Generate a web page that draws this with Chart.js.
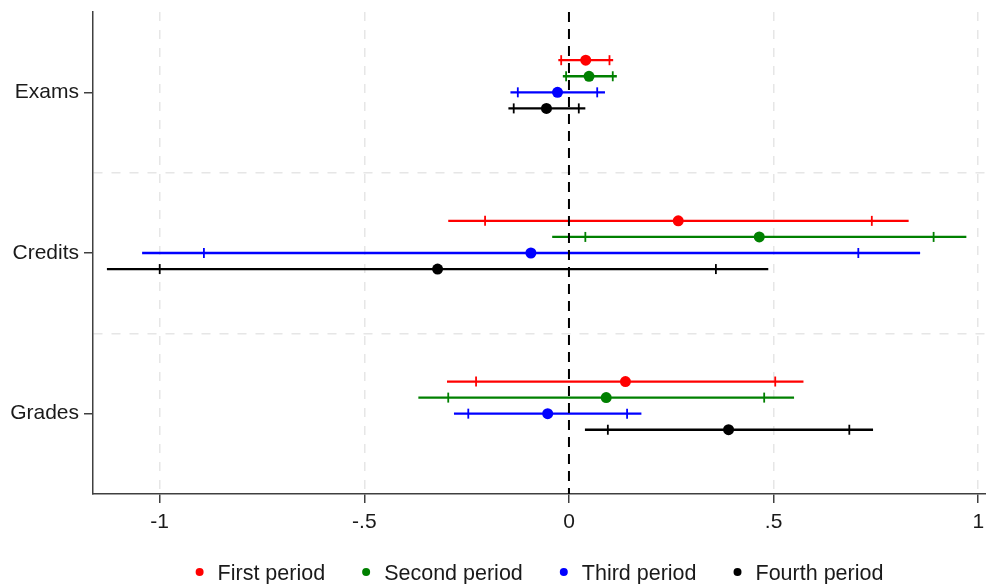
<!DOCTYPE html>
<html>
<head>
<meta charset="utf-8">
<script src="https://cdn.jsdelivr.net/npm/chart.js@4.4.1/dist/chart.umd.min.js"></script>
<style>
  body { margin: 0; background: #fff; }
  #wrap { width: 986px; height: 584px; }
</style>
</head>
<body>
<div id="wrap"><canvas id="coefPlot"></canvas></div>
<script>
"use strict";

var categories = ['Exams', 'Credits', 'Grades'];
var periods = ['First period', 'Second period', 'Third period', 'Fourth period'];
var colors = ['#ff0000', '#008000', '#0000ff', '#000000'];
var xTicks = [-1, -0.5, 0, 0.5, 1];
var xTickLabels = ['-1', '-.5', '0', '.5', '1'];

// point estimates (Exams, Credits, Grades)
var firstEst = [0.041, 0.267, 0.138];
var secondEst = [0.049, 0.465, 0.091];
var thirdEst = [-0.028, -0.093, -0.052];
var fourthEst = [-0.055, -0.321, 0.390];

// 90% interval (the small ticks)
var firstLo90 = [-0.019, -0.205, -0.227];
var firstHi90 = [0.099, 0.740, 0.504];
var secondLo90 = [-0.007, 0.040, -0.295];
var secondHi90 = [0.107, 0.891, 0.477];
var thirdLo90 = [-0.125, -0.892, -0.246];
var thirdHi90 = [0.069, 0.707, 0.142];
var fourthLo90 = [-0.135, -1.000, 0.095];
var fourthHi90 = [0.024, 0.359, 0.685];

// 95% interval (line ends)
var firstLo95 = [-0.026, -0.295, -0.298];
var firstHi95 = [0.108, 0.830, 0.573];
var secondLo95 = [-0.015, -0.041, -0.368];
var secondHi95 = [0.117, 0.971, 0.550];
var thirdLo95 = [-0.143, -1.043, -0.281];
var thirdHi95 = [0.088, 0.858, 0.177];
var fourthLo95 = [-0.148, -1.129, 0.039];
var fourthHi95 = [0.040, 0.487, 0.743];

var est = [firstEst, secondEst, thirdEst, fourthEst];
var lo90 = [firstLo90, secondLo90, thirdLo90, fourthLo90];
var hi90 = [firstHi90, secondHi90, thirdHi90, fourthHi90];
var lo95 = [firstLo95, secondLo95, thirdLo95, fourthLo95];
var hi95 = [firstHi95, secondHi95, thirdHi95, fourthHi95];

// vertical shift of each period inside a category row
var rowShift = [-0.2, -0.1, 0, 0.1];

function rowY(i, s) {
  return i + 1 + rowShift[s];
}

var datasets = [];

// reference line at zero
datasets.push({
  label: 'zero',
  data: [{x: 0, y: 0.5}, {x: 0, y: 3.5}],
  showLine: true,
  borderColor: '#000',
  borderWidth: 2,
  borderDash: [10, 7],
  pointRadius: 0
});

periods.forEach(function (name, s) {
  datasets.push({
    label: name,
    data: categories.map(function (c, i) { return {x: est[s][i], y: rowY(i, s)}; }),
    showLine: false,
    pointStyle: 'circle',
    pointRadius: 5.5,
    pointBackgroundColor: colors[s],
    pointBorderColor: colors[s],
    pointBorderWidth: 0
  });
});

periods.forEach(function (name, s) {
  var pts = [];
  categories.forEach(function (c, i) {
    pts.push({x: lo90[s][i], y: rowY(i, s)});
    pts.push({x: hi90[s][i], y: rowY(i, s)});
  });
  datasets.push({
    label: name + ' 90',
    data: pts,
    showLine: false,
    pointStyle: 'line',
    pointRotation: 90,
    pointRadius: 5,
    pointBorderColor: colors[s],
    pointBorderWidth: 1.8
  });
});

periods.forEach(function (name, s) {
  categories.forEach(function (c, i) {
    datasets.push({
      label: name + ' 95',
      data: [{x: lo95[s][i], y: rowY(i, s)}, {x: hi95[s][i], y: rowY(i, s)}],
      showLine: true,
      borderColor: colors[s],
      borderWidth: 2.3,
      pointRadius: 0
    });
  });
});

var periodLegend = {
  id: 'periodLegend',
  afterDraw: function (chart) {
    var ctx = chart.ctx;
    var area = chart.chartArea;
    var dotGap = 22, itemGap = 37;
    ctx.save();
    ctx.font = '21.5px "Liberation Sans", Arial, sans-serif';
    ctx.textBaseline = 'alphabetic';
    var widths = periods.map(function (p) { return ctx.measureText(p).width; });
    var total = (periods.length - 1) * itemGap;
    widths.forEach(function (w) { total += w + dotGap; });
    var x = (area.left + area.right) / 2 - total / 2;
    periods.forEach(function (p, s) {
      ctx.fillStyle = colors[s];
      ctx.beginPath();
      ctx.arc(x + 4, 572, 4, 0, Math.PI * 2);
      ctx.fill();
      ctx.fillStyle = '#1a1a1a';
      ctx.fillText(p, x + dotGap, 580);
      x += dotGap + widths[s] + itemGap;
    });
    ctx.restore();
  }
};

// keep the plot box fixed: no extra room for edge labels
function noScalePadding(scale) {
  scale.paddingTop = 0;
  scale.paddingBottom = 0;
  scale.paddingLeft = 0;
  scale.paddingRight = 0;
}

Chart.defaults.font.family = '"Liberation Sans", Arial, sans-serif';
Chart.defaults.font.size = 21;
Chart.defaults.color = '#1a1a1a';

var ctx = document.getElementById('coefPlot');
var myChart = new Chart(ctx, {
  type: 'scatter',
  data: { datasets: datasets },
  plugins: [periodLegend],
  options: {
    responsive: true,
    maintainAspectRatio: false,
    animation: false,
    layout: {
      autoPadding: false,
      padding: { top: 12, right: 0, bottom: 40, left: 0 }
    },
    plugins: {
      legend: { display: false },
      tooltip: { enabled: false }
    },
    scales: {
      x: {
        type: 'linear',
        min: -1.163,
        max: 1.019,
        afterBuildTicks: function (scale) {
          scale.ticks = xTicks.map(function (v) { return {value: v}; });
        },
        afterFit: function (scale) {
          scale.height = 50;
          noScalePadding(scale);
        },
        ticks: {
          padding: 7,
          maxRotation: 0,
          callback: function (value) {
            var k = xTicks.indexOf(value);
            return k >= 0 ? xTickLabels[k] : '';
          }
        },
        grid: {
          color: function (c) { return c.tick && c.tick.value === 0 ? 'rgba(0,0,0,0)' : '#e6e6e6'; },
          lineWidth: 1.5,
          tickColor: '#404040',
          tickLength: 9,
          tickWidth: 1.5
        },
        border: { color: '#404040', width: 1.5, dash: [9, 9] }
      },
      y: {
        type: 'linear',
        reverse: true,
        min: 0.5,
        max: 3.5,
        afterBuildTicks: function (scale) {
          scale.ticks = [1, 1.5, 2, 2.5, 3].map(function (v) { return {value: v}; });
        },
        afterFit: function (scale) {
          scale.width = 93;
          noScalePadding(scale);
        },
        ticks: {
          padding: 5,
          callback: function (value) {
            return Number.isInteger(value) ? categories[value - 1] : '';
          }
        },
        grid: {
          color: function (c) { return c.tick && !Number.isInteger(c.tick.value) ? '#e6e6e6' : 'rgba(0,0,0,0)'; },
          lineWidth: 1.5,
          tickColor: function (c) { return c.tick && Number.isInteger(c.tick.value) ? '#404040' : 'rgba(0,0,0,0)'; },
          tickLength: 9,
          tickWidth: 1.5
        },
        border: { color: '#404040', width: 1.5, dash: [9, 9] }
      }
    }
  }
});
</script>
</body>
</html>
